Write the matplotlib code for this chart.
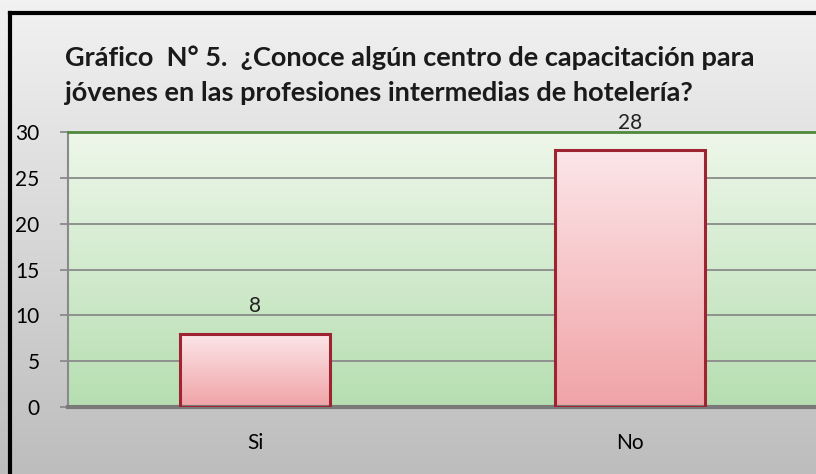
import numpy as np
import matplotlib.pyplot as plt
from matplotlib.colors import LinearSegmentedColormap
from matplotlib.lines import Line2D

# data
categories = ["Si", "No"]
values = [8, 28]
yticks = [0, 5, 10, 15, 20, 25, 30]
title = "Gráfico  N° 5.  ¿Conoce algún centro de capacitación para\njóvenes en las profesiones intermedias de hotelería?"

plt.rcParams['font.family'] = ['Lato', 'DejaVu Sans']

fig = plt.figure(figsize=(8.16, 4.74), dpi=100)
W, H = 816, 474

# gray gradient background of chart area
grad = np.linspace(0, 1, 256).reshape(-1, 1)
bgcmap = LinearSegmentedColormap.from_list('bg', ['#f2f2f2', '#bdbdbd'])
fig.figimage(np.repeat(np.linspace(0, 1, H).reshape(-1, 1), W, axis=1),
             cmap=bgcmap, origin='upper', zorder=0)

# black frame: only the left and top edges fall inside the picture
fx, fy = 10 / W, 1 - 13 / H
fig.add_artist(Line2D([fx, fx], [-0.02, fy], color='black', linewidth=3, zorder=5))
fig.add_artist(Line2D([fx, 1.02], [fy, fy], color='black', linewidth=3, zorder=5))

# plot area
left, right, top, bottom = 67.5, 817.5, 132, 407
ax = fig.add_axes([left / W, 1 - bottom / H, (right - left) / W, (bottom - top) / H], zorder=1)
ax.set_xlim(-0.5, 1.5)
ax.set_ylim(0, 30)

pcmap = LinearSegmentedColormap.from_list('pa', ['#eef7ea', '#b6deb1'])
ax.imshow(grad, aspect='auto', cmap=pcmap, extent=[-0.5, 1.5, 0, 30], origin='upper', zorder=0)

for y in yticks[1:-1]:
    ax.axhline(y, color='#8a8a8a', linewidth=1.3, zorder=1)

x = np.arange(len(categories))
bars = ax.bar(x, values, width=0.4, facecolor='none', edgecolor='#9e2431', linewidth=2.2, zorder=3)
barcmap = LinearSegmentedColormap.from_list('bar', ['#fce6e8', '#f0a3a7'])
for b, v in zip(bars, values):
    im = ax.imshow(grad, aspect='auto', cmap=barcmap,
                   extent=[b.get_x(), b.get_x() + b.get_width(), 0, v], origin='upper', zorder=2)
    im.set_clip_path(b)
    ax.text(b.get_x() + b.get_width() / 2, v + 1.9, str(v), ha='center', va='bottom',
            fontsize=15, color='#222222', clip_on=False)

ax.set_xlim(-0.5, 1.5)
ax.set_ylim(0, 30)
ax.set_xticks(x)
ax.set_xticklabels(categories, fontsize=15)
ax.set_yticks(yticks)
ax.set_yticklabels([str(t) for t in yticks], fontsize=15)
ax.tick_params(axis='x', length=0, pad=19)
ax.tick_params(axis='y', length=6, color='#8a8a8a', width=1.3, pad=14)

ax.spines['right'].set_visible(False)
ax.spines['top'].set_color('#4f8a3c')
ax.spines['top'].set_linewidth(2)
ax.spines['left'].set_color('#8a8a8a')
ax.spines['left'].set_linewidth(1.5)
ax.spines['bottom'].set_color('#7a7a7a')
ax.spines['bottom'].set_linewidth(3)

fig.text(65 / W, 1 - 45 / H, title, ha='left', va='top', fontsize=19.5, fontweight='bold',
         color='#1a1a1a', linespacing=1.58)

fig.savefig('out.png', dpi=100)
